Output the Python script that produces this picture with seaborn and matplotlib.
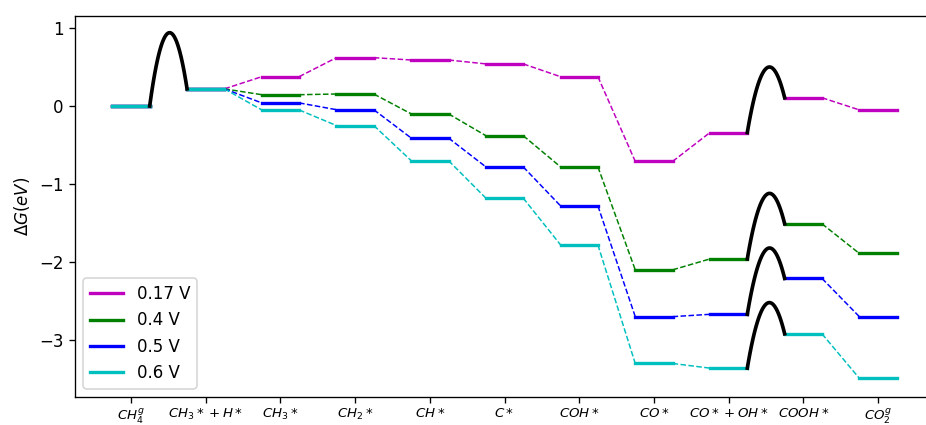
import numpy as np
import pandas as pd
import matplotlib
matplotlib.use("Agg")
import matplotlib.pyplot as plt
import seaborn as sns
from matplotlib.lines import Line2D

steps = [r'$CH_4^g$', r'$CH_3*+H*$', r'$CH_3*$', r'$CH_2*$', r'$CH*$', r'$C*$',
         r'$COH*$', r'$CO*$', r'$CO*+OH*$', r'$COOH*$', r'$CO_2^g$']
voltages = ['0.17 V', '0.4 V', '0.5 V', '0.6 V']
colors = ['m', 'g', 'b', 'c']

g_017 = [0.0, 0.22, 0.376, 0.62, 0.59, 0.54, 0.376, -0.71, -0.34, 0.106, -0.05]
g_04 = [0.0, 0.22, 0.145, 0.154, -0.10, -0.38, -0.78, -2.10, -1.96, -1.51, -1.89]
g_05 = [0.0, 0.22, 0.04, -0.047, -0.41, -0.78, -1.28, -2.70, -2.67, -2.21, -2.70]
g_06 = [0.0, 0.22, -0.05, -0.25, -0.70, -1.18, -1.78, -3.30, -3.36, -2.92, -3.49]
series = [g_017, g_04, g_05, g_06]

# transition-state peaks
ts1_peak = 0.94           # CH4 -> CH3*+H*, same for all
ts2_peaks = [0.50, -1.12, -1.82, -2.52]   # CO*+OH* -> COOH*

hw = 0.25

levels = []
links = []
for v, ys in zip(voltages, series):
    for i, y in enumerate(ys):
        levels.append({'V': v, 'seg': f'{v}-{i}', 'x': i - hw, 'y': y})
        levels.append({'V': v, 'seg': f'{v}-{i}', 'x': i + hw, 'y': y})
    for i in range(len(ys) - 1):
        if i in (0, 8):
            continue
        links.append({'V': v, 'seg': f'{v}-{i}', 'x': i + hw, 'y': ys[i]})
        links.append({'V': v, 'seg': f'{v}-{i}', 'x': i + 1 - hw, 'y': ys[i + 1]})
df_lev = pd.DataFrame(levels)
df_lnk = pd.DataFrame(links)
pal = dict(zip(voltages, colors))

dpi = 120
fig = plt.figure(figsize=(926 / dpi, 425 / dpi), dpi=dpi)
# axes runs past the right edge, so no right spine shows
ax = fig.add_axes([75 / 926, 28 / 425, 1000 / 926, 381 / 425])
ax.spines['right'].set_visible(False)


def barrier(x0, y0, y1, yp):
    # parabola through both ends with apex height yp
    r = np.sqrt((yp - y0) / (yp - y1))
    a0, a1 = x0 + hw, x0 + 1 - hw
    xv = (a0 + r * a1) / (1 + r)
    a = (yp - y0) / (a0 - xv) ** 2
    xs = np.linspace(a0, a1, 60)
    ax.plot(xs, yp - a * (xs - xv) ** 2, color='k', lw=2.2, zorder=3)


sns.lineplot(data=df_lnk, x='x', y='y', hue='V', units='seg', estimator=None,
             palette=pal, lw=0.9, linestyle='--', legend=False, ax=ax, sort=False)
sns.lineplot(data=df_lev, x='x', y='y', hue='V', units='seg', estimator=None,
             palette=pal, lw=2, legend=False, ax=ax, sort=False)

barrier(0, g_06[0], g_06[1], ts1_peak)
for ys, pk in zip(series, ts2_peaks):
    barrier(8, ys[8], ys[9], pk)

ax.set_xlim(-0.75, -0.75 + 1000 / 74.7)
ax.set_ylim(-3.73, 1.154)
ax.set_xticks(range(len(steps)))
ax.set_xticklabels(steps, fontsize=8)
ax.tick_params(axis='x', pad=2.3)
ax.set_xlabel('')
ax.set_ylabel(r'$\Delta G(eV)$')

handles = [Line2D([], [], color=c, lw=2) for c in colors]
ax.legend(handles, voltages, loc='lower left')

fig.savefig('out.png', dpi=dpi)
